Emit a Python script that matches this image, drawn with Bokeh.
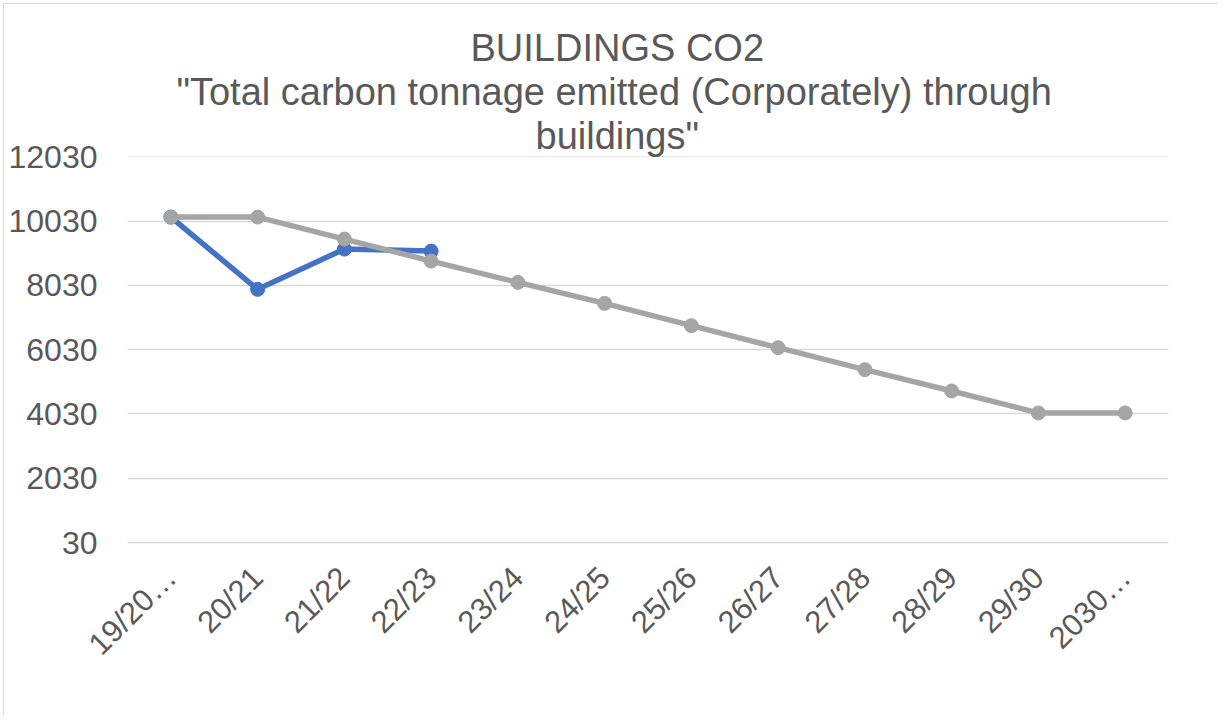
from bokeh.plotting import figure
from bokeh.models import FixedTicker, ColumnDataSource, Title
from bokeh.embed import file_html
from bokeh.resources import INLINE
from math import pi

categories = ["19/20…", "20/21", "21/22", "22/23", "23/24", "24/25", "25/26",
              "26/27", "27/28", "28/29", "29/30", "2030…"]
actual_cats = categories[:4]
actual = [10154, 7906, 9159, 9097]
target = [10154, 10154, 9470, 8786, 8123, 7470, 6776, 6092, 5408, 4745, 4061, 4061]
y_ticks = [30, 2030, 4030, 6030, 8030, 10030, 12030]
title_lines = ["BUILDINGS CO2",
               '"Total carbon tonnage emitted (Corporately) through',
               'buildings"']

FONT = "Liberation Sans"
TXT = "#595959"
W, H = 1215, 712
BL, BR, BT, BB = 123, 51, 152, 174

p = figure(width=W, height=H, x_range=categories, y_range=(30, 12040),
           output_backend="svg", toolbar_location=None, title=None,
           min_border_left=BL, min_border_right=BR,
           min_border_top=BT, min_border_bottom=BB)
p.outline_line_color = None
p.border_fill_color = "white"
p.background_fill_color = "white"
p.styles = {"border-left": "1px solid #D9D9D9", "border-top": "1px solid #D9D9D9"}

# title lines, nearest to the frame first
title_offsets = [408, 49, 343]
for t, off in zip(reversed(title_lines), title_offsets):
    p.add_layout(Title(text=t, align="left", offset=off, standoff=0,
                       text_font=FONT, text_font_size="38px",
                       text_font_style="normal", text_color=TXT), "above")

p.xgrid.grid_line_color = None
p.ygrid.grid_line_color = "#D9D9D9"
p.ygrid.grid_line_width = 1.5
p.yaxis.ticker = FixedTicker(ticks=y_ticks)
p.yaxis.axis_line_color = None
p.yaxis.major_tick_line_color = None
p.yaxis.minor_tick_line_color = None
p.yaxis.major_label_text_font = FONT
p.yaxis.major_label_text_font_size = "32px"
p.yaxis.major_label_text_color = TXT
p.yaxis.major_label_standoff = 24

p.xaxis.axis_line_color = "#D9D9D9"
p.xaxis.axis_line_width = 1.5
p.xaxis.major_tick_line_color = None
p.xaxis.minor_tick_line_color = None
p.xaxis.major_label_orientation = pi / 4
p.xaxis.major_label_text_font = FONT
p.xaxis.major_label_text_font_size = "31px"
p.xaxis.major_label_text_color = TXT
p.xaxis.major_label_standoff = 24

tsrc = ColumnDataSource(dict(x=categories, y=target))
asrc = ColumnDataSource(dict(x=actual_cats, y=actual))
p.line("x", "y", source=asrc, line_color="#4472C4", line_width=5.5)
p.scatter("x", "y", source=asrc, size=14, fill_color="#4472C4", line_color="#4472C4")
p.line("x", "y", source=tsrc, line_color="#A5A5A5", line_width=5.5)
p.scatter("x", "y", source=tsrc, size=14, fill_color="#A5A5A5", line_color="#A5A5A5")

html = file_html(p, INLINE)
i = html.rfind("<body>")
html = html[:i] + '<body style="margin:3px">' + html[i + len("<body>"):]
open("out.html", "w").write(html)
